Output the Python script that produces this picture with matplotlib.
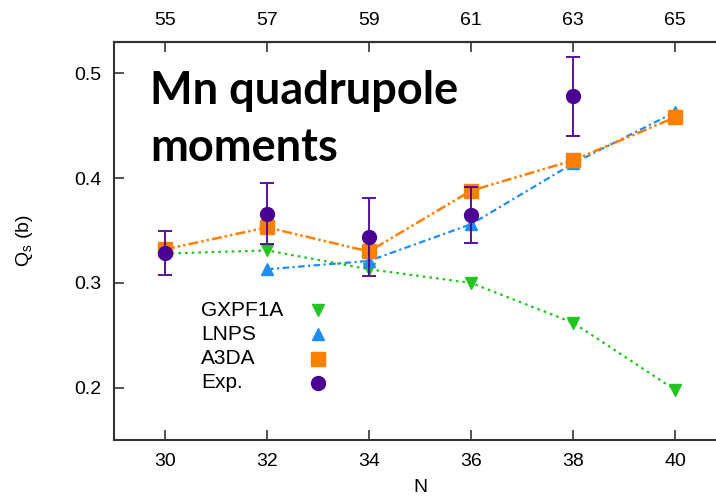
import matplotlib.pyplot as plt
import numpy as np

plt.rcParams['font.family'] = ['Liberation Sans', 'DejaVu Sans']

neutrons = [30, 32, 34, 36, 38, 40]
mass_top = [55, 57, 59, 61, 63, 65]

gxpf1a_n = [30, 32, 34, 36, 38, 40]
gxpf1a_q = [0.328, 0.331, 0.313, 0.300, 0.262, 0.198]

lnps_n = [32, 34, 36, 38, 40]
lnps_q = [0.313, 0.321, 0.356, 0.414, 0.463]

a3da_n = [30, 32, 34, 36, 38, 40]
a3da_q = [0.332, 0.353, 0.330, 0.388, 0.417, 0.458]

exp_n = [30, 32, 34, 36, 38]
exp_q = [0.329, 0.366, 0.344, 0.365, 0.478]
exp_err = [0.021, 0.029, 0.037, 0.027, 0.038]

c_gx = '#22c522'
c_ln = '#1e8ff0'
c_a3 = '#ff8000'
c_ex = '#4b0095'

fig = plt.figure(figsize=(7.16, 5.01), dpi=100)
ax = fig.add_axes([114/716, 61/501, 612/716, 398/501])

ax.plot(gxpf1a_n, gxpf1a_q, color=c_gx, ls=(0, (1.2, 1.8)), lw=1.6,
        marker='v', ms=8, zorder=2)
ax.plot(lnps_n, lnps_q, color=c_ln, ls=(0, (3, 1.5, 1, 1.5)), lw=1.6,
        marker='^', ms=8, zorder=3)
ax.plot(a3da_n, a3da_q, color=c_a3, ls=(0, (4, 1.2, 1, 1.2, 1, 1.2)), lw=1.8,
        marker='s', ms=10, zorder=4)
ax.errorbar(exp_n, exp_q, yerr=exp_err, color=c_ex, ls='none',
            marker='o', ms=10, capsize=5, elinewidth=1.3, capthick=1.3, zorder=5)

ax.set_xlim(29, 41)
ax.set_ylim(0.15, 0.53)
ax.set_xticks(neutrons)
ax.set_yticks([0.2, 0.3, 0.4, 0.5])
ax.set_yticklabels(['0.2', '0.3', '0.4', '0.5'])
ax.tick_params(direction='in', length=7, width=1.2, labelsize=14, color='#333333', pad=9)

top = ax.secondary_xaxis('top', functions=(lambda n: n + 25, lambda a: a - 25))
top.set_xticks(mass_top)
top.tick_params(direction='in', length=7, width=1.2, labelsize=14, color='#333333', pad=9)

for s in list(ax.spines.values()) + list(top.spines.values()):
    s.set_linewidth(1.5)
    s.set_color('#333333')

ax.set_xlabel('N', fontsize=14, labelpad=7)
ax.set_ylabel(r'Q$_\mathregular{s}$ (b)', fontsize=14, labelpad=28)

# title block inside the frame
fig.text(150/716, 1 - 70/501, 'Mn quadrupole\nmoments', fontsize=32.5, fontweight='bold',
         family=['Lato', 'DejaVu Sans'], va='top', ha='left', linespacing=1.45)

# key: label on the left, marker on the right
key = [('GXPF1A', 'v', c_gx, 8), ('LNPS', '^', c_ln, 8),
       ('A3DA', 's', c_a3, 10), ('Exp.', 'o', c_ex, 10)]
for i, (name, mk, col, ms) in enumerate(key):
    ypix = 310 + i * 24.3
    yf = 1 - ypix / 501
    fig.text(201/716, yf, name, fontsize=15, va='center', ha='left')
    ax.plot([318/716], [yf], transform=fig.transFigure, marker=mk, color=col,
            ms=ms, ls='none', clip_on=False)

fig.savefig('out.png', dpi=100)
